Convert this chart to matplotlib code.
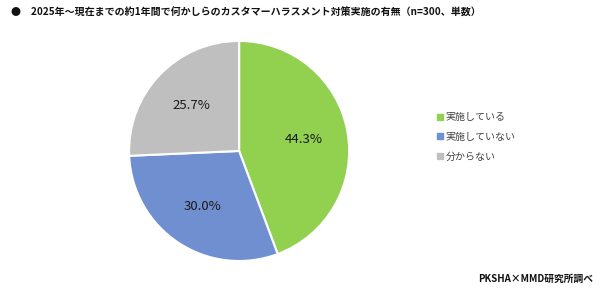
import matplotlib.pyplot as plt
from matplotlib.lines import Line2D

plt.rcParams['font.family'] = ['Noto Sans CJK JP', 'DejaVu Sans']

labels = ['実施している', '実施していない', '分からない']
values = [44.3, 30.0, 25.7]
colors = ['#92D050', '#6F8FD0', '#BFBFBF']

fig = plt.figure(figsize=(6, 2.92), dpi=100)
ax = fig.add_axes([0.169, 0.012, 0.459, 0.942])

wedges, texts, autotexts = ax.pie(
    values, colors=colors, startangle=90, counterclock=False,
    autopct='%1.1f%%', pctdistance=0.6,
    wedgeprops=dict(edgecolor='white', linewidth=1.5),
    textprops=dict(fontsize=9.5, color='#1a1a1a'))
ax.set_aspect('equal')

handles = [Line2D([0], [0], marker='s', linestyle='', markersize=4,
                  markerfacecolor=c, markeredgecolor=c) for c in colors]
fig.legend(handles, labels, loc='center left', bbox_to_anchor=(0.712, 0.531),
           frameon=False, fontsize=7.2, handletextpad=0.15, labelspacing=0.95,
           handlelength=0.8, labelcolor='#404040')

fig.text(0.018, 0.955, '●　2025年～現在までの約1年間で何かしらのカスタマーハラスメント対策実施の有無（n=300、単数）',
         fontsize=7.2, fontweight='bold', va='center', color='#111111')
fig.text(0.988, 0.045, 'PKSHA×MMD研究所調べ', fontsize=7, fontweight='bold',
         ha='right', va='center', color='#111111')

fig.savefig('out.png', dpi=100)
